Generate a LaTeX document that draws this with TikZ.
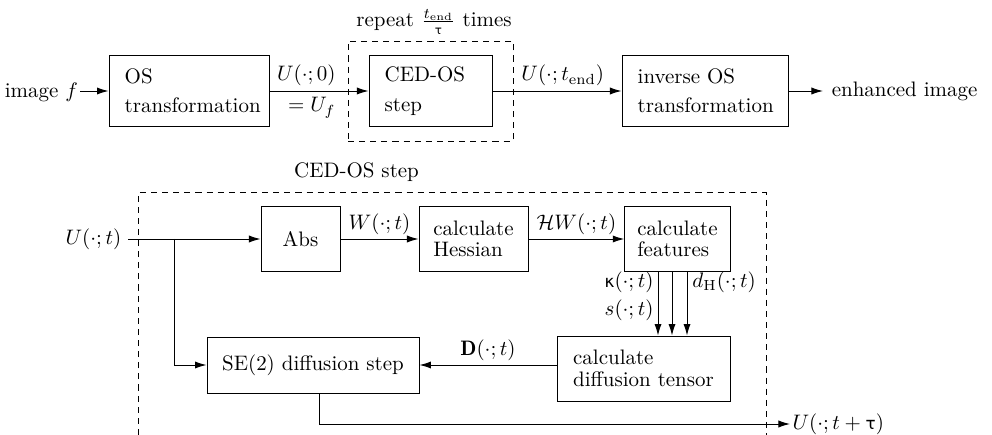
\documentclass[tikz,border=0pt]{standalone}
\usepackage{amsmath}
\usepackage{fontspec}
\newfontfamily\sfgreek{DejaVu Sans}[Scale=0.8]
\usetikzlibrary{arrows.meta,calc}
\begin{document}
\begin{tikzpicture}[x=0.477pt,y=-0.477pt,line width=0.45pt,
  tblk/.style={draw, font=\fontsize{10}{14}\selectfont, align=left, inner xsep=7.5pt, minimum height=34.3pt},
  blk/.style={draw, font=\fontsize{10}{10.2}\selectfont, align=left, inner xsep=6pt},
  lbl/.style={inner sep=2pt},
  arr/.style={-{Latex[length=5.5pt,width=3.4pt]}},
  frame/.style={line width=0.4pt, dash pattern=on 2.9pt off 2.4pt}
]
\useasboundingbox (0,0) rectangle (992,435);

% ---------- top row ----------
\node[tblk, text width=61.3pt, minimum width=76.3pt] (os) at (189,91) {OS\\transformation};
\node[tblk, text width=43.7pt, minimum width=58.7pt] (ced) at (430.5,91) {CED-OS\\step};
\node[tblk, text width=64.2pt, minimum width=79.2pt] (inv) at (705,91) {inverse OS\\transformation};
\node[draw, frame, minimum width=78.7pt, minimum height=47.7pt] (rep) at (430.5,91) {};
\node[anchor=base] (reptxt) at (434,27) {repeat $\frac{t_{\mathrm{end}}}{\text{\sfgreek τ}}$ times};

\node[anchor=base east, inner xsep=0.8pt] (img) at (80,98) {image $f$};
\node[anchor=base west, inner xsep=4pt] (enh) at (823,97) {enhanced image};
\node[anchor=base east, inner sep=0pt] (u0) at (336,81) {$U(\cdot;0)$};
\node[anchor=base east, inner sep=0pt] (uf) at (336,112) {$=U_f$};
\node[anchor=base west, inner sep=0pt] (uend) at (521,81) {$U(\cdot;t_{\mathrm{end}})$};

\draw[arr] (img.east |- os.west) -- (os.west);
\draw[arr] (os) -- (ced);
\draw[arr] (ced) -- (inv);
\draw[arr] (inv) -- (enh.west |- inv.east);

% ---------- bottom: CED-OS step ----------
\node[anchor=base] (cedtitle) at (356.5,178) {CED-OS step};
\draw[frame] (138,435) -- (138,192.5) -- (766,192.5) -- (766,435);

\node[anchor=east, inner xsep=3pt] (ut) at (128,239) {$U(\cdot;t)$};
\node[blk, minimum width=37.7pt, minimum height=31pt] (abs) at (300.5,239) {Abs};
\node[blk, minimum width=52pt, minimum height=31pt] (hes) at (473.5,239) {calculate\\Hessian};
\node[blk, minimum width=50.1pt, minimum height=31pt] (feat) at (677.5,239) {calculate\\features};
\node[blk, minimum width=82.5pt, minimum height=31pt] (tens) at (643.5,368.5) {calculate\\diffusion tensor};
\node[blk, minimum width=101.1pt, minimum height=26.7pt] (se) at (313,365) {SE(2) diffusion step};

\coordinate (br) at (174,239);
\draw[arr] (ut.east) -- (abs.west);
\draw[arr] (br) |- (se.west);
\draw[arr] (abs) -- (hes) node[lbl, midway, above] (wl) {$W(\cdot;t)$};
\draw[arr] (hes) -- (feat) node[lbl, midway, above] (hwl) {$\mathcal{H}W(\cdot;t)$};
\draw[arr] (tens.west |- se.east) -- (se.east) node[lbl, midway, above] (dl) {$\mathbf{D}(\cdot;t)$};

\coordinate (k1) at ($(feat.south)+(-19.5,0)$);
\coordinate (k2) at ($(feat.south)+(-5.5,0)$);
\coordinate (k3) at ($(feat.south)+(9.5,0)$);
\draw[arr] (k1) -- (k1 |- tens.north);
\draw[arr] (k2) -- (k2 |- tens.north);
\draw[arr] (k3) -- (k3 |- tens.north);
\node[anchor=base east, inner sep=0pt] (kl) at (654,287) {$\text{\sfgreek κ}(\cdot;t)$};
\node[anchor=base east, inner sep=0pt] (sl) at (654,316) {$s(\cdot;t)$};
\node[anchor=base west, inner sep=0pt] (dhl) at (692,287) {$d_{\mathrm{H}}(\cdot;t)$};

\coordinate (so) at ($(se.south)+(6,0)$);
\node[anchor=west, inner xsep=1pt] (out) at (790,424) {$U(\cdot;t+\text{\sfgreek τ})$};
\draw[arr] (so) |- (out.west);
\end{tikzpicture}
\end{document}
